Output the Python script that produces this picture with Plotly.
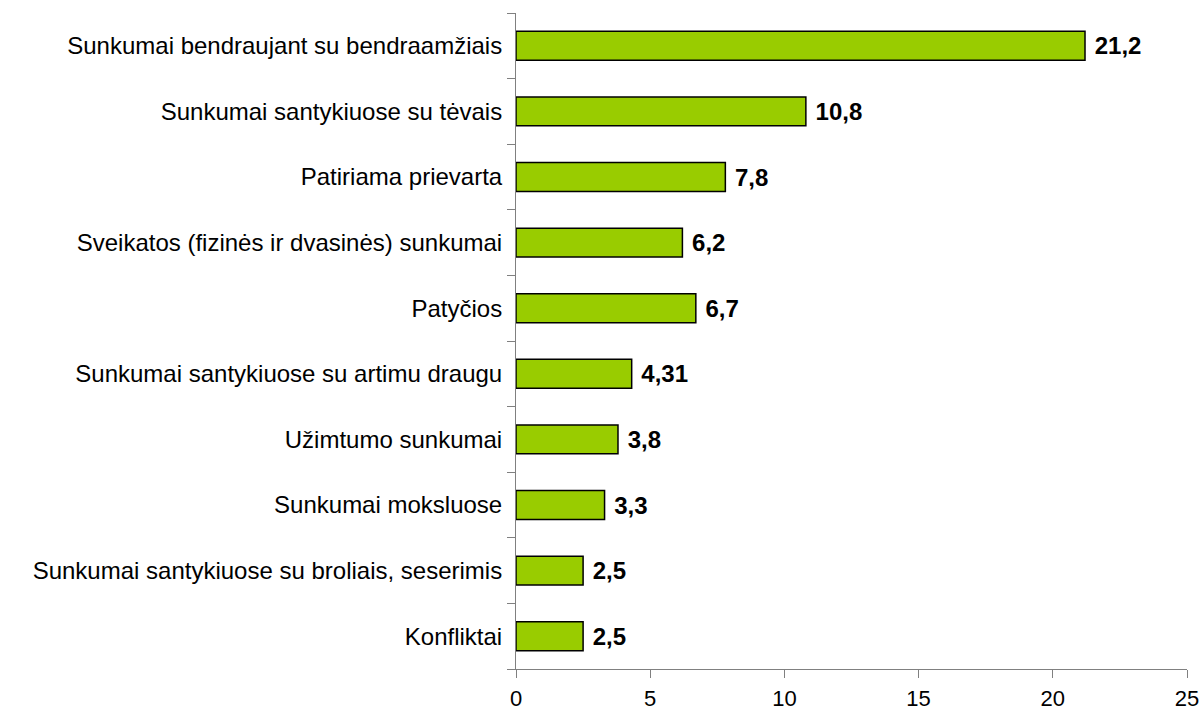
import plotly.graph_objects as go

categories = [
    "Sunkumai bendraujant su bendraamžiais",
    "Sunkumai santykiuose su tėvais",
    "Patiriama prievarta",
    "Sveikatos (fizinės ir dvasinės) sunkumai",
    "Patyčios",
    "Sunkumai santykiuose su artimu draugu",
    "Užimtumo sunkumai",
    "Sunkumai moksluose",
    "Sunkumai santykiuose su broliais, seserimis",
    "Konfliktai",
]
values = [21.2, 10.8, 7.8, 6.2, 6.7, 4.31, 3.8, 3.3, 2.5, 2.5]
x_ticks = [0, 5, 10, 15, 20, 25]

labels = ["\u00a0" + str(v).replace(".", ",") for v in values]

FONT = "Liberation Sans, Arial"

fig = go.Figure(
    go.Bar(
        y=categories,
        x=values,
        orientation="h",
        marker=dict(color="#99CC00", line=dict(color="#000000", width=1.5)),
        text=labels,
        textposition="outside",
        textfont=dict(family=FONT, size=24, color="#000000", weight="bold"),
        cliponaxis=False,
        width=0.44,
        hoverinfo="skip",
    )
)

fig.update_layout(
    width=1203,
    height=712,
    margin=dict(l=516, r=16, t=13, b=43, autoexpand=False),
    plot_bgcolor="white",
    paper_bgcolor="white",
    font=dict(family=FONT, size=24, color="#000000"),
    showlegend=False,
)
fig.update_xaxes(
    range=[0, 25],
    tickvals=x_ticks,
    ticks="outside",
    ticklen=8,
    tickcolor="#808080",
    showline=True,
    linecolor="#808080",
    linewidth=1,
    showgrid=False,
    zeroline=False,
    tickfont=dict(size=22),
    ticklabelstandoff=2,
)
fig.update_yaxes(
    categoryorder="array",
    categoryarray=categories[::-1],
    autorange=False,
    range=[-0.5, 9.5],
    ticks="outside",
    tickson="boundaries",
    ticklen=8,
    tickcolor="#808080",
    showline=True,
    linecolor="#808080",
    linewidth=1,
    showgrid=False,
    zeroline=False,
    ticklabelstandoff=8,
    tickfont=dict(size=24),
)

fig.write_html(
    "out.html",
    config={"displayModeBar": False},
    post_script="document.body.style.margin='0';document.body.style.overflow='hidden';",
)
